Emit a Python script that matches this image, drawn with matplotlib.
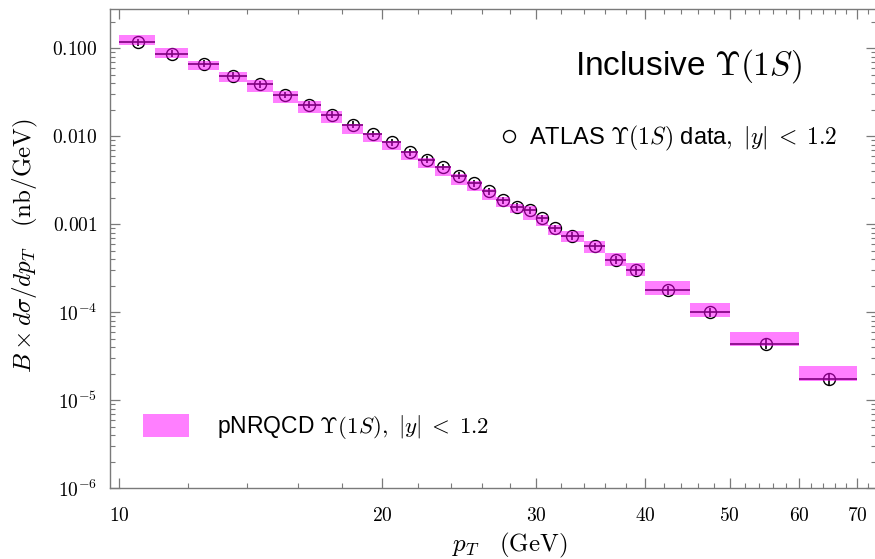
import matplotlib
matplotlib.use("Agg")
import matplotlib.pyplot as plt
import numpy as np
from matplotlib.ticker import FixedLocator, FixedFormatter, NullFormatter, LogLocator
from matplotlib.lines import Line2D
from matplotlib.patches import Patch

# pT bins (GeV)
pt_lo = [10, 11, 12, 13, 14, 15, 16, 17, 18, 19, 20, 21, 22, 23, 24, 25, 26, 27,
         28, 29, 30, 31, 32, 34, 36, 38, 40, 45, 50, 60]
pt_hi = [11, 12, 13, 14, 15, 16, 17, 18, 19, 20, 21, 22, 23, 24, 25, 26, 27, 28,
         29, 30, 31, 32, 34, 36, 38, 40, 45, 50, 60, 70]

# ATLAS Upsilon(1S) cross section, |y| < 1.2 (nb/GeV)
atlas = [0.118, 0.0871, 0.0670, 0.0489, 0.0389, 0.0297, 0.0230, 0.0176, 0.0136,
         0.01067, 0.00857, 0.00665, 0.00545, 0.00450, 0.00358, 0.00295, 0.00237,
         0.00187, 0.00157, 0.00144, 0.00117, 0.000898, 0.000741, 0.000560,
         0.000395, 0.000299, 0.000177, 9.93e-5, 4.37e-5, 1.74e-5]
atlas_rel_err = [0.09, 0.09, 0.09, 0.09, 0.09, 0.09, 0.09, 0.09, 0.09, 0.09,
                 0.09, 0.09, 0.09, 0.09, 0.09, 0.09, 0.10, 0.10, 0.10, 0.10,
                 0.10, 0.10, 0.10, 0.10, 0.11, 0.11, 0.11, 0.12, 0.13, 0.15]

# pNRQCD prediction band (nb/GeV)
nrqcd_lo = [0.109, 0.0769, 0.0566, 0.0413, 0.0318, 0.0238, 0.0183, 0.0141,
            0.01076, 0.00857, 0.00695, 0.00535, 0.00434, 0.00352, 0.00282,
            0.00237, 0.00191, 0.00157, 0.00135, 0.00113, 0.000946, 0.000762,
            0.000622, 0.000471, 0.000337, 0.000260, 0.000158, 8.87e-5, 4.07e-5,
            1.66e-5]
nrqcd_hi = [0.1406, 0.100, 0.0729, 0.0543, 0.0433, 0.0327, 0.0251, 0.0193,
            0.01387, 0.01096, 0.00879, 0.00689, 0.00569, 0.00465, 0.00377,
            0.00308, 0.00252, 0.00205, 0.00172, 0.00160, 0.00129, 0.000989,
            0.000845, 0.000638, 0.000471, 0.000362, 0.000228, 1.28e-4, 5.98e-5,
            2.45e-5]

x_major = [10, 20, 30, 40, 50, 60, 70]
x_major_labels = [r"$10$", r"$20$", r"$30$", r"$40$", r"$50$", r"$60$", r"$70$"]
x_minor = [12, 14, 16, 18, 22, 24, 26, 28, 32, 34, 36, 38, 42, 44, 46, 48,
           52, 54, 56, 58, 62, 64, 66, 68, 72]
y_major = [1e-6, 1e-5, 1e-4, 1e-3, 1e-2, 1e-1]
y_major_labels = [r"$10^{-6}$", r"$10^{-5}$", r"$10^{-4}$", r"$0.001$",
                  r"$0.010$", r"$0.100$"]

plt.rcParams["font.family"] = ["Liberation Sans", "DejaVu Sans"]
plt.rcParams["mathtext.fontset"] = "cm"

W, H = 875, 559
fig = plt.figure(figsize=(W / 100, H / 100), dpi=100)
ax = fig.add_axes([110 / W, 1 - 488 / H, (876 - 110) / W, (488 - 9) / H])
ax.set_xscale("log")
ax.set_yscale("log")

lo = np.array(pt_lo, dtype=float)
hi = np.array(pt_hi, dtype=float)
xc = 0.5 * (lo + hi)
y = np.array(atlas)
yerr = y * np.array(atlas_rel_err)

# data points with bin-width bars
ax.errorbar(xc, y, xerr=[xc - lo, hi - xc], yerr=yerr, fmt="o", ms=8.6,
            mfc="none", mec="black", mew=1.0, ecolor="black", elinewidth=1.2,
            capsize=0, zorder=2)

# theory band drawn over the data, half transparent
band_lo = np.array(nrqcd_lo)
band_hi = np.array(nrqcd_hi)
ax.bar(lo, band_hi - band_lo, width=hi - lo, bottom=band_lo, align="edge",
       color="#FF00FF", alpha=0.5, linewidth=0, zorder=3)

ax.set_xlim(9.76, 73.5)
ax.set_ylim(1e-6, 0.281)

ax.xaxis.set_major_locator(FixedLocator(x_major))
ax.xaxis.set_major_formatter(FixedFormatter(x_major_labels))
ax.xaxis.set_minor_locator(FixedLocator(x_minor))
ax.xaxis.set_minor_formatter(NullFormatter())
ax.yaxis.set_major_locator(FixedLocator(y_major))
ax.yaxis.set_major_formatter(FixedFormatter(y_major_labels))
ax.yaxis.set_minor_locator(LogLocator(base=10, subs=np.arange(2, 10), numticks=30))
ax.yaxis.set_minor_formatter(NullFormatter())

frame = "#7a7a7a"
for s in ax.spines.values():
    s.set_color(frame)
    s.set_linewidth(1.0)
ax.tick_params(which="both", direction="in", top=True, right=True,
               color=frame, labelcolor="black", labelsize=14)
ax.tick_params(which="major", length=7, width=0.9)
ax.tick_params(which="minor", length=3.5, width=0.8)
ax.tick_params(axis="x", which="major", pad=14)
ax.tick_params(axis="y", which="major", pad=9)

ax.set_xlabel(r"$p_T \quad (\mathrm{GeV})$", fontsize=18)
ax.xaxis.set_label_coords((510 - 110) / 766, (488 - 545) / 479)
ax.xaxis.label.set_va("center")
ax.set_ylabel(r"$B \times d\sigma/dp_T \quad (\mathrm{nb/GeV})$", fontsize=18)
ax.yaxis.set_label_coords((25 - 110) / 766, (488 - 246) / 479)
ax.yaxis.label.set_va("center")

fig.text(688 / W, 1 - 66 / H, r"Inclusive $\Upsilon(1S)$", fontsize=24,
         ha="center", va="center")

leg1 = ax.legend(
    handles=[Line2D([], [], marker="o", ls="none", mfc="none", mec="black",
                    ms=8.6, mew=1.0)],
    labels=[r"ATLAS $\Upsilon(1S)$ data$,\ |y|\;<\;1.2$"],
    loc="center left", bbox_to_anchor=(497 / W, 1 - 138 / H),
    bbox_transform=fig.transFigure, frameon=False, fontsize=17,
    handlelength=1.0, handletextpad=0.35, borderpad=0, borderaxespad=0)
ax.add_artist(leg1)
ax.legend(
    handles=[Patch(facecolor="#FF00FF", alpha=0.5, linewidth=0)],
    labels=[r"pNRQCD $\Upsilon(1S),\ |y|\;<\;1.2$"],
    loc="center left", bbox_to_anchor=(143 / W, 1 - 427 / H),
    bbox_transform=fig.transFigure, frameon=False, fontsize=16.5,
    handlelength=2.0, handleheight=1.2, handletextpad=1.25, borderpad=0,
    borderaxespad=0)

fig.savefig("out.png", dpi=100)
